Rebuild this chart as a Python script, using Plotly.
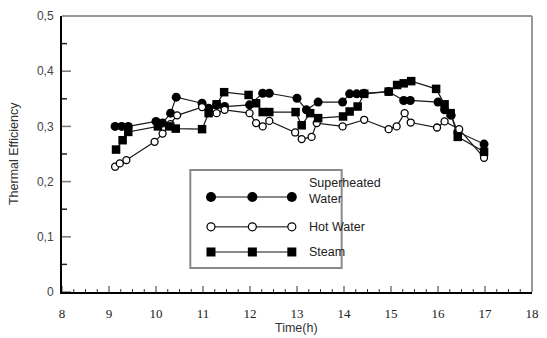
import plotly.graph_objects as go

# ---- data ----
sw_t = [9.13, 9.27, 9.41, 10.0, 10.14, 10.31, 10.43, 10.98, 11.12, 11.29, 11.46, 11.99, 12.27, 12.41,
        13.0, 13.2, 13.45, 13.97, 14.12, 14.27, 14.43, 14.95, 15.27, 15.41, 16.0, 16.14, 16.28, 16.42, 16.98]
sw_y = [0.30, 0.30, 0.30, 0.309, 0.306, 0.324, 0.353, 0.342, 0.333, 0.339, 0.336, 0.339, 0.36, 0.36,
        0.351, 0.33, 0.344, 0.344, 0.359, 0.359, 0.36, 0.363, 0.347, 0.347, 0.344, 0.33, 0.32, 0.29, 0.268]

hw_t = [9.13, 9.23, 9.37, 9.97, 10.14, 10.31, 10.45, 10.98, 11.29, 11.46, 11.99, 12.13, 12.27, 12.41,
        12.96, 13.1, 13.31, 13.42, 13.97, 14.43, 14.95, 15.12, 15.29, 15.42, 15.98, 16.14, 16.45, 16.98]
hw_y = [0.227, 0.233, 0.239, 0.272, 0.287, 0.304, 0.32, 0.335, 0.324, 0.33, 0.324, 0.306, 0.30, 0.31,
        0.289, 0.277, 0.281, 0.306, 0.30, 0.312, 0.295, 0.30, 0.324, 0.307, 0.298, 0.309, 0.295, 0.243]

st_t = [9.15, 9.29, 9.41, 10.04, 10.28, 10.42, 10.98, 11.12, 11.29, 11.45, 11.97, 12.13, 12.27, 12.41,
        12.97, 13.1, 13.28, 13.45, 13.98, 14.12, 14.29, 14.43, 14.95, 15.13, 15.27, 15.43, 15.96, 16.14,
        16.27, 16.42, 16.98]
st_y = [0.258, 0.275, 0.29, 0.30, 0.30, 0.296, 0.295, 0.324, 0.34, 0.362, 0.357, 0.342, 0.326, 0.326,
        0.326, 0.302, 0.324, 0.315, 0.318, 0.327, 0.336, 0.359, 0.363, 0.375, 0.378, 0.382, 0.368, 0.34,
        0.324, 0.281, 0.254]

x_major = [8, 9, 10, 11, 12, 13, 14, 15, 16, 17, 18]
y_major = [0, 0.1, 0.2, 0.3, 0.4, 0.5]

legend_names = ["Superheated<br>Water", "Hot Water", "Steam"]

fig = go.Figure()
LINE = dict(color="#1a1a1a", width=1.2)
fig.add_trace(go.Scatter(x=sw_t, y=sw_y, mode="lines+markers", line=LINE,
                         marker=dict(symbol="circle", size=9, color="black"), showlegend=False))
fig.add_trace(go.Scatter(x=hw_t, y=hw_y, mode="lines+markers", line=LINE,
                         marker=dict(symbol="circle", size=7, color="white", line=dict(color="black", width=1.3)),
                         showlegend=False))
fig.add_trace(go.Scatter(x=st_t, y=st_y, mode="lines+markers", line=LINE,
                         marker=dict(symbol="square", size=8.5, color="black"), showlegend=False))

# ---- inside tick marks (drawn as shapes on the axes' scales) ----
for i, t in enumerate(x_major):
    fig.add_shape(type="line", xref="x", yref="paper", ysizemode="pixel", yanchor=0,
                  x0=t, x1=t, y0=0, y1=6, line=dict(color="#333", width=1))
    if i < len(x_major) - 1:
        for q in (0.25, 0.5, 0.75):
            fig.add_shape(type="line", xref="x", yref="paper", ysizemode="pixel", yanchor=0,
                          x0=t + q, x1=t + q, y0=0, y1=3, line=dict(color="#333", width=1))
for i, v in enumerate(y_major):
    fig.add_shape(type="line", xref="paper", yref="y", xsizemode="pixel", xanchor=0,
                  x0=0, x1=9, y0=v, y1=v, line=dict(color="#777", width=1.5))
    if i < len(y_major) - 1:
        fig.add_shape(type="line", xref="paper", yref="y", xsizemode="pixel", xanchor=0,
                      x0=0, x1=5, y0=v + 0.05, y1=v + 0.05, line=dict(color="#222", width=1.5))

# ---- manual legend drawn with paper-referenced shapes ----
lx = [0.317, 0.405, 0.489]
rows = [0.344, 0.236, 0.145]
fig.add_shape(type="rect", xref="paper", yref="paper", x0=0.273, x1=0.595, y0=0.087, y1=0.442,
              line=dict(color="#8a8a8a", width=2), fillcolor="white", layer="below")
line_styles = [dict(color="#888", width=2), dict(color="black", width=1), dict(color="#888", width=2)]
for r, ls in zip(rows, line_styles):
    fig.add_shape(type="line", xref="paper", yref="paper", x0=lx[0], x1=lx[-1], y0=r, y1=r, line=ls)
for k, r in enumerate(rows):
    for xv in lx:
        if k == 0:
            fig.add_shape(type="circle", xref="paper", yref="paper", xsizemode="pixel", ysizemode="pixel",
                          xanchor=xv, yanchor=r, x0=-5, x1=5, y0=-5, y1=5,
                          fillcolor="black", line=dict(color="black", width=0))
        elif k == 1:
            fig.add_shape(type="circle", xref="paper", yref="paper", xsizemode="pixel", ysizemode="pixel",
                          xanchor=xv, yanchor=r, x0=-4, x1=4, y0=-4, y1=4,
                          fillcolor="white", line=dict(color="black", width=1.2))
        else:
            fig.add_shape(type="rect", xref="paper", yref="paper", xsizemode="pixel", ysizemode="pixel",
                          xanchor=xv, yanchor=r, x0=-4.5, x1=4.5, y0=-4.5, y1=4.5,
                          fillcolor="black", line=dict(color="black", width=0))
text_y = [0.366, 0.236, 0.145]
for name, ty in zip(legend_names, text_y):
    fig.add_annotation(x=0.522, y=ty, xref="paper", yref="paper", text=name, showarrow=False,
                       xanchor="left", yanchor="middle", align="left",
                       font=dict(family="Liberation Sans, Arial", size=12.5, color="#222"))

fig.update_layout(
    width=547, height=338,
    margin=dict(l=62, r=8, t=16, b=46),
    separators=", ",
    paper_bgcolor="white", plot_bgcolor="white",
    xaxis=dict(range=[8, 18], tickmode="array", tickvals=x_major, ticks="", showline=True,
               linecolor="black", linewidth=2, showgrid=False, zeroline=False, ticklabelstandoff=8,
               tickfont=dict(family="Liberation Serif, Times New Roman", size=13, color="#222")),
    yaxis=dict(range=[0, 0.5], tickmode="array", tickvals=y_major, ticks="", showline=True,
               linecolor="black", linewidth=2, showgrid=False, zeroline=False, ticklabelstandoff=4,
               tickfont=dict(family="Liberation Sans, Arial", size=12, color="#444")),
    showlegend=False,
)
# top and right border (gray)
fig.add_shape(type="line", xref="paper", yref="paper", x0=0, x1=1, y0=1, y1=1,
              line=dict(color="#999", width=2))
fig.add_shape(type="line", xref="paper", yref="paper", x0=1, x1=1, y0=0, y1=1,
              line=dict(color="#999", width=2))

fig.add_annotation(text="Thermal Efficiency", xref="paper", yref="paper", x=-0.102, y=0.5,
                   textangle=-90, showarrow=False, xanchor="center", yanchor="middle",
                   font=dict(family="Liberation Sans, Arial", size=12.5, color="#333"))
fig.add_annotation(text="Time(h)", xref="paper", yref="paper", x=0.498, y=-0.13,
                   showarrow=False, xanchor="center", yanchor="middle",
                   font=dict(family="Liberation Sans, Arial", size=12.5, color="#333"))

fig.write_html("out.html")
